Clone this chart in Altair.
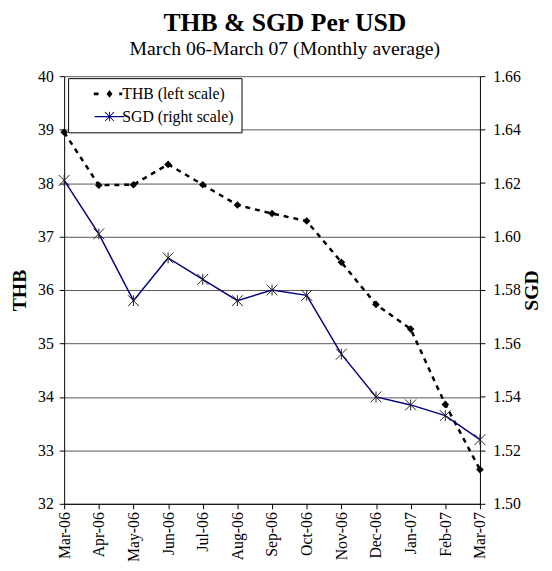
import altair as alt
import pandas as pd

# ---- data ----
months = ["Mar-06", "Apr-06", "May-06", "Jun-06", "Jul-06", "Aug-06", "Sep-06",
          "Oct-06", "Nov-06", "Dec-06", "Jan-07", "Feb-07", "Mar-07"]
thb = [38.95, 37.96, 37.97, 38.35, 37.97, 37.59, 37.43, 37.29, 36.52, 35.73, 35.27, 33.86, 32.64]
sgd = [1.621, 1.601, 1.576, 1.592, 1.584, 1.576, 1.580, 1.578, 1.556, 1.540, 1.537, 1.533, 1.524]
series_names = ["THB (left scale)", "SGD (right scale)"]
thb_ticks = [32, 33, 34, 35, 36, 37, 38, 39, 40]
sgd_ticks = [1.50, 1.52, 1.54, 1.56, 1.58, 1.60, 1.62, 1.64, 1.66]

df = pd.DataFrame({"month": months, "THB": thb, "SGD": sgd})
leg_df = pd.DataFrame({"series": series_names})

FONT = "Liberation Serif"

# asterisk marker (stroked)
ASTERISK = "M-1,-1L1,1M-1,1L1,-1M0,-1L0,1"
# legend symbols: line + marker drawn as filled shapes
THB_LEG = ("M-5.3,-0.45L-3.7,-0.45L-3.7,0.45L-5.3,0.45Z "
           "M0,-1.3L1,0L0,1.3L-1,0Z "
           "M3.3,-0.45L4.3,-0.45L4.3,0.45L3.3,0.45Z")
SGD_LEG = ("M-5,-0.22L5,-0.22L5,0.22L-5,0.22Z "
           "M-0.15,-1.6L0.15,-1.6L0.15,1.6L-0.15,1.6Z "
           "M-1.394,-1.606L1.606,1.394L1.394,1.606L-1.606,-1.394Z "
           "M-1.606,1.394L1.394,-1.606L1.606,-1.394L-1.394,1.606Z")

x_enc = alt.X(
    "month:O", sort=months,
    scale=alt.Scale(type="point", padding=0),
    axis=alt.Axis(title=None, labelAngle=-90, labelFont=FONT, labelFontSize=16,
                  labelColor="black", tickSize=5, tickColor="black",
                  domainColor="black", labelPadding=3, grid=False,
                  labelOverlap=False),
)

thb_y = alt.Y(
    "THB:Q",
    scale=alt.Scale(domain=[32, 40], nice=False, zero=False),
    axis=alt.Axis(orient="left", values=thb_ticks, title="THB", titleFont=FONT,
                  titleFontSize=20, titleFontWeight="bold", titleColor="black",
                  titlePadding=8, labelFont=FONT, labelFontSize=16, labelColor="black",
                  tickSize=5, tickColor="black", labelPadding=6, grid=True,
                  gridColor="#555555", gridWidth=1, domainColor="black"),
)
sgd_y = alt.Y(
    "SGD:Q",
    scale=alt.Scale(domain=[1.50, 1.66], nice=False, zero=False),
    axis=alt.Axis(orient="right", values=sgd_ticks, format=".2f", title="SGD",
                  titleFont=FONT, titleFontSize=20, titleFontWeight="bold",
                  titleColor="black", titleAngle=270, titlePadding=21,
                  labelFont=FONT, labelFontSize=16, labelColor="black",
                  tickSize=5, tickColor="black", labelPadding=8, grid=False,
                  domainColor="black"),
)

base = alt.Chart(df)
thb_line = base.mark_line(color="black", strokeWidth=2.5, strokeDash=[5, 5]).encode(x=x_enc, y=thb_y)
thb_pts = base.mark_point(shape="diamond", filled=True, size=60, color="black", opacity=1).encode(x=x_enc, y=thb_y)
sgd_line = base.mark_line(color="#000080", strokeWidth=1.5).encode(x=x_enc, y=sgd_y)
sgd_pts = base.mark_point(shape=ASTERISK, filled=False, size=121, color="#222222",
                          strokeWidth=1, opacity=1).encode(x=x_enc, y=sgd_y)

legend = alt.Legend(
    title=None, orient="none", legendX=4, legendY=2, direction="vertical",
    strokeColor="black", fillColor="white", padding=8, symbolOffset=26,
    labelOffset=5, rowPadding=7, labelFont=FONT, labelFontSize=16,
    labelColor="black", symbolSize=36, symbolStrokeWidth=0, symbolOpacity=1,
)
legend_layer = alt.Chart(leg_df).transform_filter("false").mark_point(
    filled=True, size=36, opacity=1
).encode(
    color=alt.Color("series:N", scale=alt.Scale(domain=series_names, range=["black", "#000080"]), legend=legend),
    shape=alt.Shape("series:N", scale=alt.Scale(domain=series_names, range=[THB_LEG, SGD_LEG]), legend=legend),
)

chart = alt.layer(
    alt.layer(thb_line, thb_pts),
    alt.layer(sgd_line, sgd_pts),
    legend_layer,
).resolve_scale(y="independent").properties(
    width=422, height=434,
    title=alt.TitleParams(
        text="THB & SGD Per USD", subtitle="March 06-March 07 (Monthly average)",
        font=FONT, fontSize=26, fontWeight="bold", color="black",
        subtitleFont=FONT, subtitleFontSize=20, subtitleColor="black",
        subtitlePadding=3, anchor="middle", frame="group", dx=13, offset=10,
    ),
    autosize=alt.AutoSizeParams(type="none"),
    padding={"left": 57, "top": 65, "right": 65, "bottom": 64},
).configure(font=FONT).configure_axis(
    labelFont=FONT, titleFont=FONT
).configure_legend(labelFont=FONT).configure_view(stroke=None)

chart.save("out.html", embed_options={"renderer": "svg", "actions": False})
